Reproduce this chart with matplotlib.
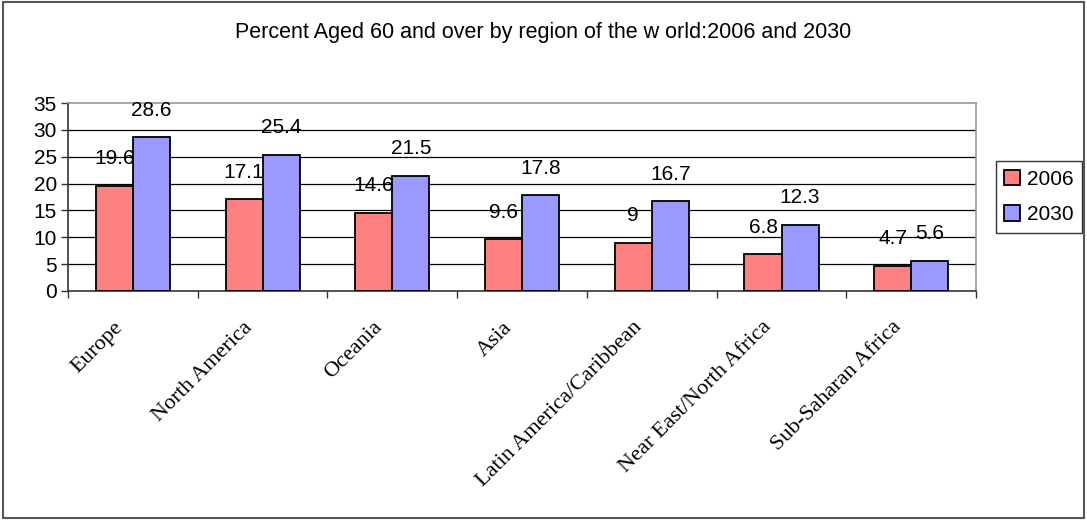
import matplotlib
matplotlib.use("Agg")
import matplotlib.pyplot as plt
import numpy as np
from matplotlib.patches import Rectangle

categories = ["Europe", "North America", "Oceania", "Asia",
              "Latin America/Caribbean", "Near East/North Africa",
              "Sub-Saharan Africa"]
series_names = ["2006", "2030"]
values_2006 = [19.6, 17.1, 14.6, 9.6, 9, 6.8, 4.7]
values_2030 = [28.6, 25.4, 21.5, 17.8, 16.7, 12.3, 5.6]
y_ticks = [0, 5, 10, 15, 20, 25, 30, 35]
title = "Percent Aged 60 and over by region of the w orld:2006 and 2030"

colors = ["#FF8080", "#9999FF"]
sans = ["Liberation Sans", "DejaVu Sans"]
serif = ["Liberation Serif", "DejaVu Serif"]
num_fs = 15
label_offset_pt = 19.5

fig = plt.figure(figsize=(10.87, 5.2), dpi=100)
fig.patches.append(Rectangle((0.003, 0.004), 0.994, 0.992, transform=fig.transFigure,
                             fill=False, edgecolor="#555555", linewidth=1.5))
ax = fig.add_axes([0.0626, 0.4404, 0.8354, 0.3615])

n = len(categories)
x = np.arange(n)
w = 1 / 3.5
b1 = ax.bar(x - w / 2, values_2006, w, color=colors[0], edgecolor="black",
            linewidth=1.3, label=series_names[0], zorder=3)
b2 = ax.bar(x + w / 2, values_2030, w, color=colors[1], edgecolor="black",
            linewidth=1.3, label=series_names[1], zorder=3)

for bars, vals in [(b1, values_2006), (b2, values_2030)]:
    for r, v in zip(bars, vals):
        ax.annotate(f"{v:g}", (r.get_x() + r.get_width() / 2, v),
                    xytext=(0, label_offset_pt), textcoords="offset points",
                    ha="center", va="center", fontsize=num_fs, family=sans, zorder=5)

ax.set_xlim(-0.5, n - 0.5)
ax.set_ylim(0, 35)
ax.set_yticks(y_ticks)
ax.set_yticklabels([str(t) for t in y_ticks], fontsize=num_fs, family=sans)
for t in y_ticks[1:-1]:
    ax.axhline(t, color="black", linewidth=0.9, zorder=1)

ax.set_xticks(np.arange(n + 1) - 0.5)
ax.set_xticklabels([])
ax.tick_params(axis="x", direction="out", length=5, width=1, color="#333333")
ax.tick_params(axis="y", direction="out", length=5, width=1, color="#333333", pad=3)

for i, c in enumerate(categories):
    ax.text(i - 0.15, -5.0, c, rotation=45, ha="right", va="top",
            rotation_mode="anchor", fontsize=16, family=serif)

for s in ["top", "right"]:
    ax.spines[s].set_color("#999999")
    ax.spines[s].set_linewidth(1.2)
for s in ["left", "bottom"]:
    ax.spines[s].set_color("#333333")
    ax.spines[s].set_linewidth(1.2)

fig.text(0.5, 0.938, title, ha="center", va="center", fontsize=15.5, family=sans)

leg = ax.legend(loc="center left", bbox_to_anchor=(1.022, 0.5), frameon=True,
                fancybox=False, edgecolor="black",
                prop={"family": sans, "size": num_fs},
                handlelength=0.75, handleheight=0.75, handletextpad=0.35,
                labelspacing=0.8, borderpad=0.4, borderaxespad=0)
leg.get_frame().set_linewidth(1.0)

fig.savefig("out.png", dpi=100)
